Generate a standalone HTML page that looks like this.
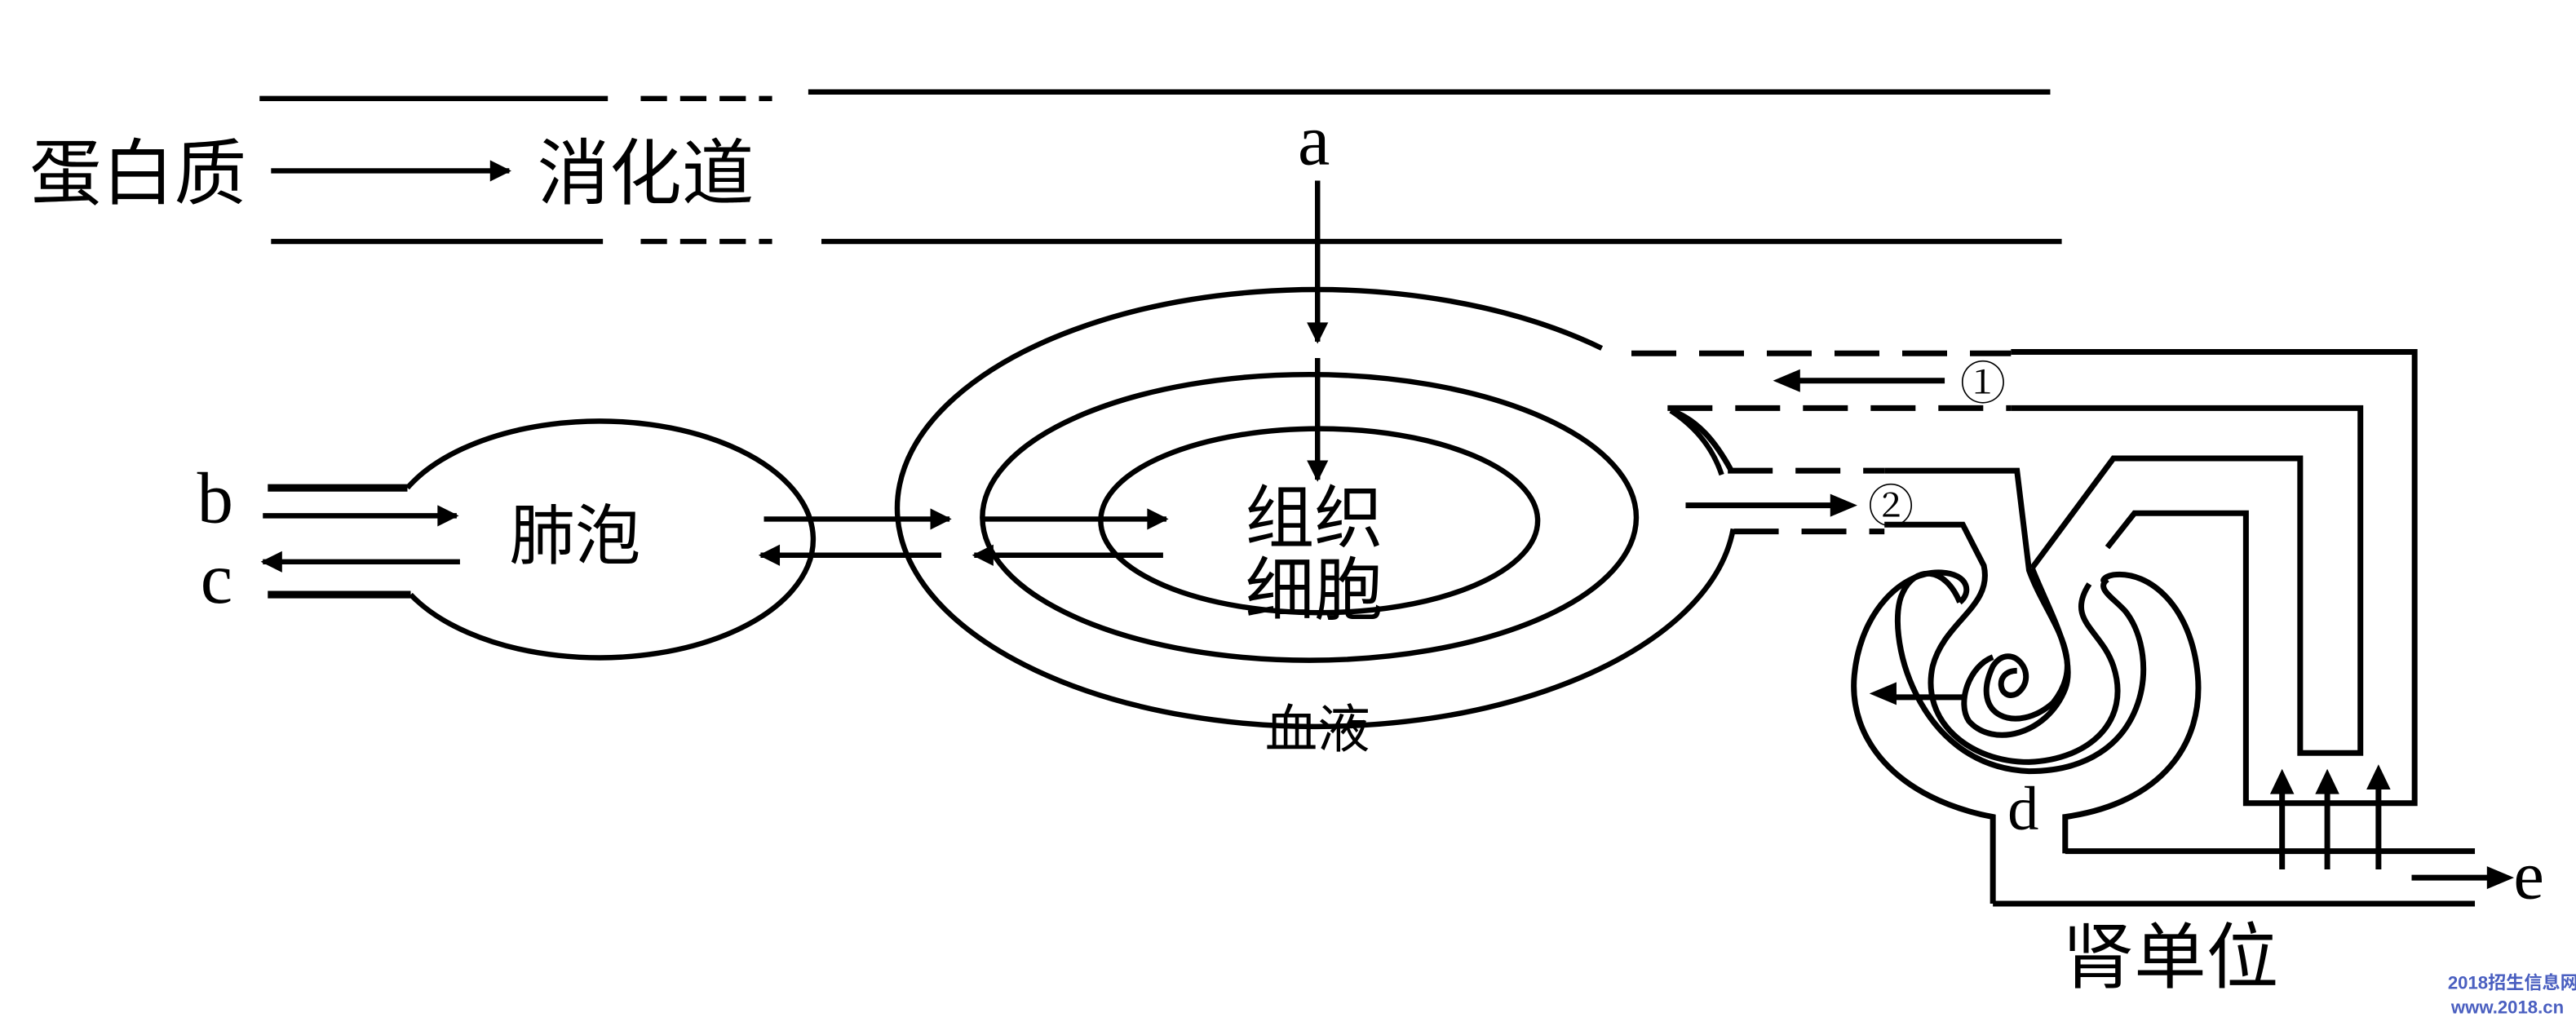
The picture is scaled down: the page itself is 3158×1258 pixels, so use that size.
<!DOCTYPE html>
<html><head><meta charset="utf-8"><style>
html,body{margin:0;padding:0;background:#fff;}
svg{display:block;}
text{font-family:"Liberation Sans","Noto Sans CJK SC",sans-serif;fill:#000;}
.s{font-family:"Liberation Serif","Noto Serif CJK SC",serif;}
</style></head><body>
<svg width="3158" height="1258" viewBox="0 0 3158 1258" xmlns="http://www.w3.org/2000/svg">
<defs>
<marker id="ah2" viewBox="0 0 10 10" refX="9" refY="5" markerWidth="15" markerHeight="13" orient="auto" markerUnits="userSpaceOnUse">
<path d="M0,0 L10,5 L0,10 z" fill="#000"/></marker>
</defs>
<rect width="3158" height="1258" fill="#fff"/>
<g transform="scale(2.014)" fill="none" stroke="#000" stroke-width="3.2">
  <path d="M158,60 H370 M492,56 H1248 M165,147 H367 M500,147 H1255"/>
  <path d="M390,60 H470 M390,147 H470" stroke-dasharray="16,8"/>
  <path d="M165,104 H310" marker-end="url(#ah2)" />
  <path d="M802,110 V208" marker-end="url(#ah2)"/>
  <path d="M802,218 V292" marker-end="url(#ah2)"/>
  <path d="M975,212 A255,133 0 1 0 1055,322"/>
  <path d="M1017,250 Q1040,265 1048,289"/>
  <ellipse cx="797" cy="315" rx="199" ry="87"/>
  <ellipse cx="803" cy="317" rx="133" ry="56"/>
  <path d="M248,297 A130,72 0 1 1 250,362"/>
  <path d="M163,297 H248 M163,362 H250" stroke-width="4.5"/>
  <path d="M160,314 H278" marker-end="url(#ah2)"/>
  <path d="M280,342 H160" marker-end="url(#ah2)"/>
  <path d="M465,316 H578" marker-end="url(#ah2)"/>
  <path d="M573,338 H463" marker-end="url(#ah2)"/>
  <path d="M598,316 H710" marker-end="url(#ah2)"/>
  <path d="M708,338 H593" marker-end="url(#ah2)"/>
</g>
<g transform="translate(2000,380) scale(0.7386,0.56)" fill="none" stroke="#000">
 <g stroke-width="7">
  <path vector-effect="non-scaling-stroke" d="M0,95 H630 M60,215 H630 M160,352 H420 M170,485 H420" stroke-dasharray="55,28"/>
  <path vector-effect="non-scaling-stroke" d="M630,92 H1300 V1080 H1020 V445 H835 L790,520"/>
  <path vector-effect="non-scaling-stroke" d="M630,215 H1210 V970 H1110 V325 H800 L665,565"/>
  <path vector-effect="non-scaling-stroke" d="M420,352 H640 L660,570 C690,680 760,760 700,860 C640,930 560,890 600,780 C630,720 680,800 640,840 C610,860 600,790 640,790"/>
  <path vector-effect="non-scaling-stroke" d="M665,565 C690,650 740,760 720,830 C690,930 600,960 560,900 C540,860 560,780 600,760"/>
  <path vector-effect="non-scaling-stroke" d="M420,470 H550 L585,560 C600,650 520,680 500,780 C480,900 560,990 660,990 C760,985 830,900 800,780 C780,700 720,680 760,600"/>
  <path vector-effect="non-scaling-stroke" d="M545,640 C520,560 470,560 450,620 C420,700 470,1000 660,1010 C860,1010 880,760 820,660 C800,630 770,610 790,590"/>
  <path vector-effect="non-scaling-stroke" d="M600,1300 V1110 C440,1070 360,940 370,800 C380,660 450,570 515,575 C560,578 565,620 545,640"/>
  <path vector-effect="non-scaling-stroke" d="M720,1190 V1110 C880,1080 950,950 940,800 C930,650 860,570 800,580 C780,585 780,600 790,590"/>
  <path vector-effect="non-scaling-stroke" d="M600,1300 H1400 M720,1185 H1400"/>
  <path vector-effect="non-scaling-stroke" d="M165,350 C140,290 110,240 65,220"/>
  <path vector-effect="non-scaling-stroke" d="M90,428 H340 M520,155 H270 M555,848 H430 M1080,1225 V1050 M1155,1225 V1050 M1240,1225 V1050 M1295,1243 H1430"/>
 </g>
 <g fill="#000" stroke="none">
  <path d="M375,428 L330,403 L330,453z"/>
  <path d="M235,155 L280,130 L280,180z"/>
  <path d="M395,840 L440,815 L440,865z"/>
  <path d="M1080,1005 L1060,1060 L1100,1060z"/>
  <path d="M1155,1005 L1135,1060 L1175,1060z"/>
  <path d="M1240,995 L1220,1050 L1260,1050z"/>
  <path d="M1465,1243 L1420,1218 L1420,1268z"/>
 </g>
</g>
<g transform="scale(2.014)">
  <text x="18" y="121" font-size="44">蛋白质</text>
  <text x="327" y="121" font-size="44">消化道</text>
  <text class="s" x="790" y="100" font-size="44">a</text>
  <text class="s" x="120" y="318" font-size="44">b</text>
  <text class="s" x="122" y="367" font-size="44">c</text>
  <text x="310" y="340" font-size="40">肺泡</text>
  <text x="758" y="330" font-size="42">组织</text>
  <text x="758" y="374" font-size="42">细胞</text>
  <text x="770" y="455" font-size="32">血液</text>
  <text class="s" x="1193" y="243" font-size="28">①</text>
  <text class="s" x="1137" y="318" font-size="28">②</text>
  <text class="s" x="1222" y="505" font-size="38">d</text>
  <text class="s" x="1530" y="547" font-size="42">e</text>
  <text x="1255" y="598" font-size="44">肾单位</text>
  <text x="1490" y="602" font-size="11" style="fill:#4a5fc0;font-weight:bold">2018招生信息网</text>
  <text x="1492" y="617" font-size="11" style="fill:#4a5fc0;font-weight:bold">www.2018.cn</text>
</g>
</svg>
</body></html>
